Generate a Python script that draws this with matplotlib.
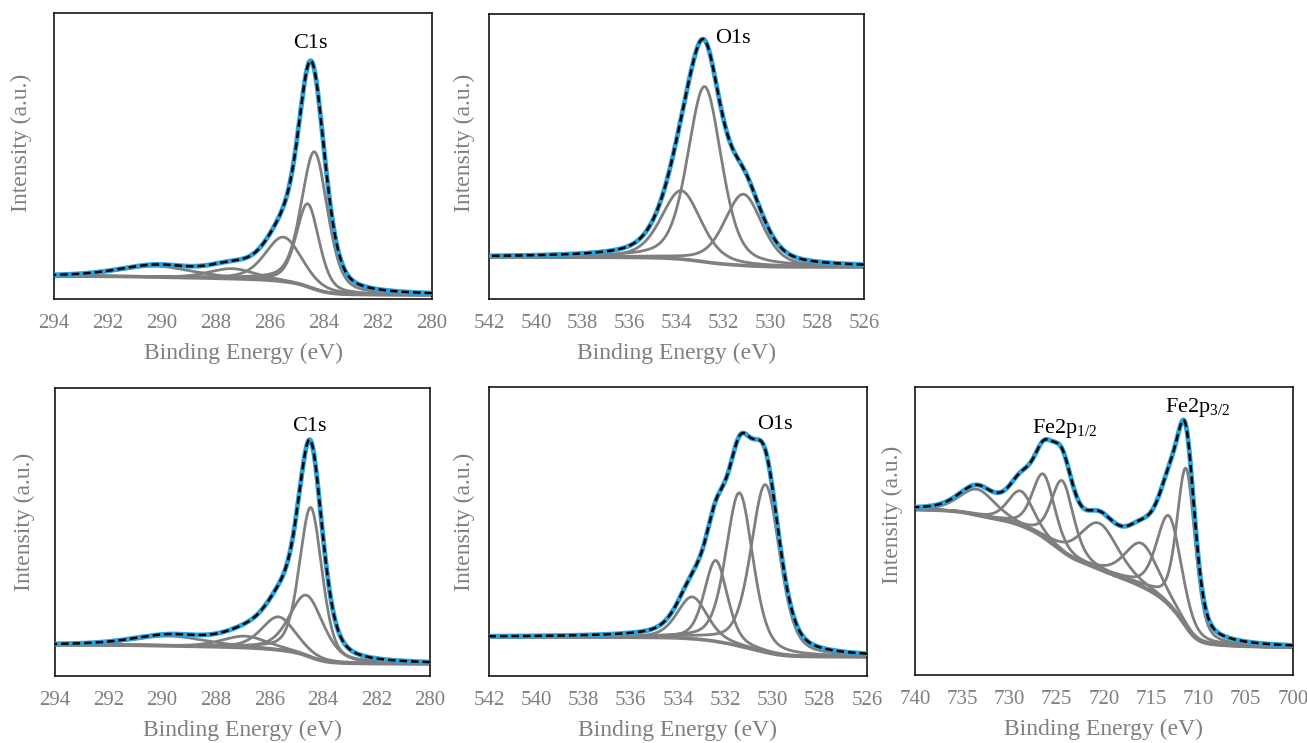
import numpy as np
import matplotlib
matplotlib.use("Agg")
import matplotlib.pyplot as plt

plt.rcParams['font.family'] = ['Liberation Serif', 'DejaVu Serif']
plt.rcParams['mathtext.fontset'] = 'custom'
plt.rcParams['mathtext.rm'] = 'Liberation Serif'
plt.rcParams['mathtext.it'] = 'Liberation Serif:italic'

GRAY = '#7f7f7f'
BLUE = '#2aa3dc'

# peak parameters (y in fractions of the axes height)
c1s_a_center = [284.35, 284.6, 285.5, 287.4, 290.2]
c1s_a_height = [0.48, 0.29, 0.155, 0.035, 0.038]
c1s_a_fwhm = [1.15, 1.0, 1.6, 2.0, 3.2]
c1s_a_bg = (0.014, 0.08)

o1s_a_center = [532.8, 533.8, 531.15]
o1s_a_height = [0.615, 0.24, 0.25]
o1s_a_fwhm = [1.7, 2.0, 1.9]
o1s_a_bg = (0.112, 0.147)

c1s_b_center = [284.45, 284.6, 285.65, 286.9, 289.7]
c1s_b_height = [0.52, 0.21, 0.115, 0.04, 0.034]
c1s_b_fwhm = [1.0, 1.5, 1.5, 2.0, 3.2]
c1s_b_bg = (0.042, 0.108)

o1s_b_center = [530.3, 531.4, 532.4, 533.4]
o1s_b_height = [0.58, 0.53, 0.28, 0.145]
o1s_b_fwhm = [1.45, 1.35, 1.15, 1.5]
o1s_b_bg = (0.066, 0.135)

fe_center = [711.3, 713.1, 716.0, 720.5, 724.4, 726.4, 728.8, 733.4]
fe_height = [0.55, 0.31, 0.15, 0.16, 0.245, 0.22, 0.12, 0.09]
fe_fwhm = [2.3, 3.1, 4.2, 4.8, 2.8, 2.8, 3.2, 4.5]
fe_bg = (0.096, 0.574)

panels = [
    # rect px (left, top, right, bottom), xlim, ticks, centers, heights, fwhm, bg
    ((54, 13, 432, 299), (294, 280), np.arange(294, 279, -2),
     c1s_a_center, c1s_a_height, c1s_a_fwhm, c1s_a_bg),
    ((489, 14, 864, 299), (542, 526), np.arange(542, 525, -2),
     o1s_a_center, o1s_a_height, o1s_a_fwhm, o1s_a_bg),
    ((55, 388, 430, 676), (294, 280), np.arange(294, 279, -2),
     c1s_b_center, c1s_b_height, c1s_b_fwhm, c1s_b_bg),
    ((489, 387, 867, 676), (542, 526), np.arange(542, 525, -2),
     o1s_b_center, o1s_b_height, o1s_b_fwhm, o1s_b_bg),
    ((915, 387, 1293, 675), (740, 700), np.arange(740, 699, -5),
     fe_center, fe_height, fe_fwhm, fe_bg),
]
ylabel_x = [-0.058, -0.037, -0.053, -0.037, -0.032]
ylabel_y = [0.545, 0.547, 0.535, 0.535, 0.556]

labels = [
    (0, 284.5, 0.878, 'C1s', 'center'),
    (1, 531.6, 0.898, 'O1s', 'center'),
    (2, 284.5, 0.851, 'C1s', 'center'),
    (3, 529.9, 0.855, 'O1s', 'center'),
    (4, 727.65, 0.84, 'Fe2p$_{\\mathrm{1/2}}$', 'left'),
    (4, 713.55, 0.914, 'Fe2p$_{\\mathrm{3/2}}$', 'left'),
]


def pv(x, c, h, w, m=0.4):
    g = np.exp(-4 * np.log(2) * (x - c) ** 2 / w ** 2)
    l = 1 / (1 + 4 * (x - c) ** 2 / w ** 2)
    return h * ((1 - m) * g + m * l)


W, H = 1307, 743
fig = plt.figure(figsize=(W / 100, H / 100), dpi=100)
axes = []
for i, (rect, xl, ticks, cen, hgt, fw, bg) in enumerate(panels):
    l, t, r, b = rect
    ax = fig.add_axes([l / W, 1 - b / H, (r - l) / W, (b - t) / H])
    axes.append(ax)
    x = np.linspace(min(xl), max(xl), 800)
    comps = [pv(x, c, h, w) for c, h, w in zip(cen, hgt, fw)]
    total = np.sum(comps, axis=0)
    # Shirley-type background from the cumulative area
    cum = np.cumsum(total)
    bgline = bg[0] + (bg[1] - bg[0]) * cum / cum[-1]
    env = bgline + total
    ax.plot(x, env, color=BLUE, lw=3.5, zorder=3)
    for comp in comps:
        ax.plot(x, bgline + comp, color=GRAY, lw=2, zorder=2)
    ax.plot(x, bgline, color=GRAY, lw=2.6, zorder=2)
    ax.plot(x, env, color='black', lw=1.8, ls=(0, (3, 1.6)), zorder=4)
    ax.set_xlim(xl)
    ax.set_ylim(0, 1)
    ax.set_xticks(ticks)
    ax.set_yticks([])
    ax.tick_params(axis='x', length=0, pad=11, labelsize=15, labelcolor=GRAY)
    ax.set_xlabel('Binding Energy (eV)', fontsize=17, color=GRAY, labelpad=7)
    ax.set_ylabel('Intensity (a.u.)', fontsize=17, color=GRAY)
    ax.yaxis.set_label_coords(ylabel_x[i], ylabel_y[i])
    for s in ax.spines.values():
        s.set_linewidth(1.1)
        s.set_color('black')

for i, xv, yv, txt, ha in labels:
    axes[i].text(xv, yv, txt, fontsize=16, color='black', ha=ha, va='baseline')

fig.savefig('out.png', dpi=100)
